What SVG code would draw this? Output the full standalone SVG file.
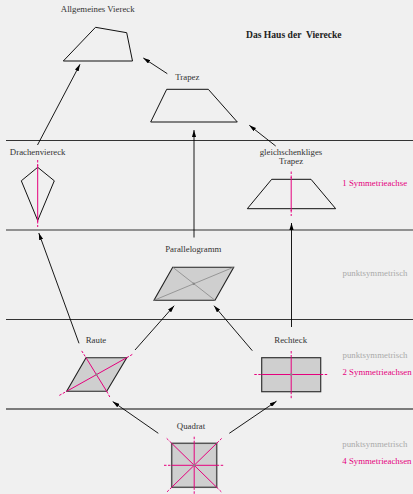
<svg xmlns="http://www.w3.org/2000/svg" width="413" height="494" viewBox="0 0 413 494">
<style>
text{font-family:"Liberation Serif","DejaVu Serif",serif;font-size:8.8px;fill:#333}
.c{text-anchor:middle}
.t{font-weight:bold;font-size:9.6px;fill:#222;white-space:pre}
.g{fill:#aaa}
.m{fill:#e5007d}
.sh{fill:none;stroke:#111;stroke-width:1}
.fl{fill:#cfcfcf;stroke:#222;stroke-width:1.1}
.ax{stroke:#e5007d;stroke-width:1;fill:none}
.axd{stroke:#e5007d;stroke-width:1;fill:none;stroke-dasharray:2.5,1.5}
.dg{stroke:#888;stroke-width:0.8;fill:none}
.hl{stroke:#333;stroke-width:1.2}
.ar{stroke:#000;stroke-width:0.9;fill:none;marker-end:url(#ah)}
</style>
<defs>
<marker id="ah" viewBox="0 0 10 6" refX="10" refY="3" markerWidth="7" markerHeight="4.2" orient="auto" markerUnits="userSpaceOnUse">
<path d="M0,0 L10,3 L0,6 z" fill="#000"/>
</marker>
</defs>
<rect width="413" height="494" fill="#f0f0f0"/>
<g id="bands">
<line class="hl" x1="6" y1="140.5" x2="413" y2="140.5"/>
<line class="hl" x1="6" y1="230" x2="413" y2="230"/>
<line class="hl" x1="6" y1="319.5" x2="413" y2="319.5"/>
<line class="hl" x1="6" y1="409" x2="413" y2="409" style="stroke:#555;stroke-width:1.5"/>
</g>
<text class="t" x="246" y="38" xml:space="preserve">Das Haus der  Vierecke</text>
<g id="allgemein">
<text class="c" x="97.7" y="12.3">Allgemeines Viereck</text>
<polygon class="sh" points="95.5,27.3 126.7,32.7 132.5,61 63.3,61"/>
</g>
<g id="trapez">
<text class="c" x="187.3" y="79.5">Trapez</text>
<polygon class="sh" points="166.7,89.3 208.3,89.3 237.3,122 150.7,122"/>
</g>
<g id="drachen">
<text class="c" x="37.7" y="155.3">Drachenviereck</text>
<polygon class="sh" points="37.7,167.3 54.3,180.8 37.7,220.5 21.3,180.8"/>
<line class="ax" x1="37.7" y1="165" x2="37.7" y2="222"/>
<line class="axd" x1="37.7" y1="160" x2="37.7" y2="166"/>
<line class="axd" x1="37.7" y1="221" x2="37.7" y2="227"/>
</g>
<g id="gltrapez">
<text class="c" x="291" y="155">gleichschenkliges</text>
<text class="c" x="291" y="164">Trapez</text>
<polygon class="sh" points="271.7,179.3 311,179.3 335.7,208.7 247.3,208.7"/>
<line class="ax" x1="291.2" y1="177" x2="291.2" y2="211"/>
<line class="axd" x1="291.2" y1="171.5" x2="291.2" y2="178"/>
<line class="axd" x1="291.2" y1="210" x2="291.2" y2="216"/>
<text class="m" x="342.3" y="186">1 Symmetrieachse</text>
</g>
<g id="parallelogramm">
<text class="c" x="193.3" y="251.5">Parallelogramm</text>
<polygon class="fl" points="172.7,267.2 233.7,267.2 215,300.3 154,300.3"/>
<line class="dg" x1="172.7" y1="267.2" x2="215" y2="300.3"/>
<line class="dg" x1="233.7" y1="267.2" x2="154" y2="300.3"/>
<circle cx="193.8" cy="283.8" r="1.2" fill="#888"/>
<text class="g" x="342.5" y="276">punktsymmetrisch</text>
</g>
<g id="raute">
<text class="c" x="96" y="343">Raute</text>
<polygon class="fl" points="86,357.7 126.7,357.7 106.7,391.3 66.7,391.3"/>
<line class="ax" x1="66.7" y1="391.3" x2="126.7" y2="357.7"/>
<line class="ax" x1="86" y1="357.7" x2="106.7" y2="391.3"/>
<line class="axd" x1="59.3" y1="395.4" x2="66.7" y2="391.3"/>
<line class="axd" x1="126.7" y1="357.7" x2="133" y2="354"/>
<line class="axd" x1="81.7" y1="350.9" x2="86" y2="357.7"/>
<line class="axd" x1="106.7" y1="391.3" x2="110.5" y2="398.3"/>
<circle cx="96.5" cy="374.5" r="1.2" fill="#888"/>
</g>
<g id="rechteck">
<text class="c" x="290.7" y="343">Rechteck</text>
<rect class="fl" x="261.7" y="357.7" width="59" height="34" style="stroke:#333;stroke-width:1.2"/>
<line class="ax" x1="291.2" y1="357.7" x2="291.2" y2="391.7"/>
<line class="ax" x1="261.7" y1="374.5" x2="320.7" y2="374.5"/>
<line class="axd" x1="291.2" y1="351" x2="291.2" y2="357.7"/>
<line class="axd" x1="291.2" y1="391.7" x2="291.2" y2="399.5"/>
<line class="axd" x1="254.3" y1="374.5" x2="261.7" y2="374.5"/>
<line class="axd" x1="320.7" y1="374.5" x2="328.5" y2="374.5"/>
<circle cx="291.2" cy="374.5" r="1.2" fill="#888"/>
<text class="g" x="342.5" y="357.5">punktsymmetrisch</text>
<text class="m" x="342.5" y="375">2 Symmetrieachsen</text>
</g>
<g id="quadrat">
<text class="c" x="191" y="429">Quadrat</text>
<rect class="fl" x="171.7" y="443.3" width="45" height="44" style="stroke:#555;stroke-width:1.5"/>
<line class="ax" x1="171.7" y1="443.3" x2="216.7" y2="487.3"/>
<line class="ax" x1="216.7" y1="443.3" x2="171.7" y2="487.3"/>
<line class="ax" x1="194.2" y1="443.3" x2="194.2" y2="487.3"/>
<line class="ax" x1="171.7" y1="465.3" x2="216.7" y2="465.3"/>
<line class="axd" x1="166.7" y1="438.4" x2="171.7" y2="443.3"/>
<line class="axd" x1="216.7" y1="487.3" x2="221.7" y2="492.2"/>
<line class="axd" x1="221.7" y1="438.4" x2="216.7" y2="443.3"/>
<line class="axd" x1="171.7" y1="487.3" x2="166.7" y2="492.2"/>
<line class="axd" x1="194.2" y1="436.7" x2="194.2" y2="443.3"/>
<line class="axd" x1="194.2" y1="487.3" x2="194.2" y2="494"/>
<line class="axd" x1="164" y1="465.3" x2="171.7" y2="465.3"/>
<line class="axd" x1="216.7" y1="465.3" x2="224" y2="465.3"/>
<circle cx="194.2" cy="465.3" r="1.3" fill="#888"/>
<text class="g" x="342.3" y="446.5">punktsymmetrisch</text>
<text class="m" x="342.3" y="463.5">4 Symmetrieachsen</text>
</g>
<g id="connectors">
<line class="ar" x1="167.3" y1="73.7" x2="143.3" y2="58"/>
<line class="ar" x1="37.5" y1="145" x2="80" y2="64.3"/>
<line class="ar" x1="194" y1="237.5" x2="194" y2="130"/>
<line class="ar" x1="275.7" y1="146" x2="249.3" y2="125.3"/>
<line class="ar" x1="291.5" y1="327" x2="291.5" y2="223"/>
<line class="ar" x1="79" y1="343.3" x2="38.8" y2="233"/>
<line class="ar" x1="135" y1="350" x2="174.2" y2="305.7"/>
<line class="ar" x1="252.3" y1="350.7" x2="214" y2="305.7"/>
<line class="ar" x1="158.3" y1="433.3" x2="112.7" y2="401.6"/>
<line class="ar" x1="229.3" y1="433.3" x2="276.5" y2="401.2"/>
</g>
</svg>
